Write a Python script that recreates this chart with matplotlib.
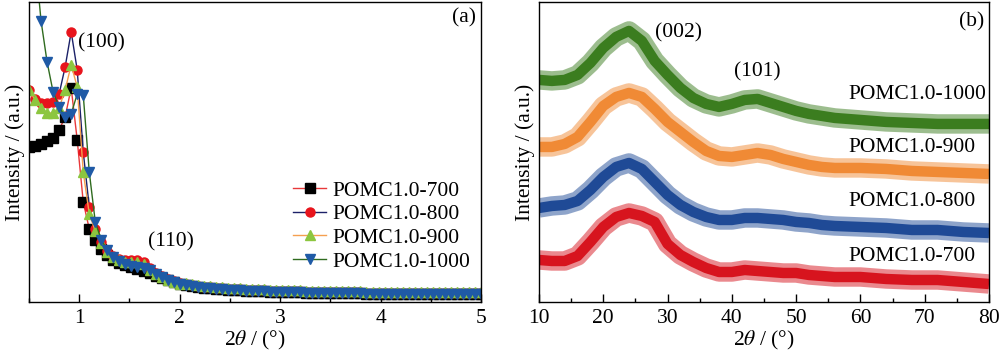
import numpy as np
import matplotlib
matplotlib.use("Agg")
import matplotlib.pyplot as plt
from matplotlib.ticker import MultipleLocator

plt.rcParams.update({
    "font.family": ["Liberation Serif", "DejaVu Serif"],
    "mathtext.fontset": "stix",
    "font.size": 15.5,
    "axes.linewidth": 1.0,
})

# ---------------- (a) small-angle XRD ----------------
two_theta_a = np.round(np.arange(0.50, 5.001, 0.06), 2)

saxs_700 = [155, 156, 158, 161, 164, 172, 185, 214, 162, 100, 73, 62, 53, 47, 42, 39, 37, 35, 33, 31,
            29, 26, 24, 22, 20, 18,
            17, 16, 15, 14, 14, 13, 13, 12, 12, 12, 11, 11, 11, 11, 10, 10, 10, 10, 10, 10,
            9, 9, 9, 9, 9, 9, 9, 9, 9, 9, 8, 8, 8, 8, 8, 8, 8, 8, 8, 8, 8, 8, 8, 8, 8, 8, 8, 8, 8, 8]
saxs_800 = [212, 203, 199, 199, 200, 208, 235, 270, 232, 150, 95, 73, 60, 51, 46, 43, 42, 42, 42, 40,
            34, 29, 26, 23, 21, 19,
            18, 17, 16, 15, 15, 14, 14, 13, 13, 13, 12, 12, 12, 12, 11, 11, 11, 11, 11, 11,
            10, 10, 10, 10, 10, 10, 10, 10, 10, 10, 9, 9, 9, 9, 9, 9, 9, 9, 9, 9, 9, 9, 9, 9, 9, 9, 9, 9, 9, 9]
saxs_900 = [212, 202, 194, 189, 189, 194, 212, 237, 215, 130, 88, 71, 59, 50, 45, 42, 40, 40, 40, 38,
            32, 28, 25, 22, 20, 18,
            19, 18, 17, 16, 16, 15, 15, 14, 14, 14, 13, 13, 13, 13, 12, 12, 12, 12, 12, 12,
            11, 11, 11, 11, 11, 11, 11, 11, 11, 11, 10, 10, 10, 10, 10, 10, 10, 10, 10, 10, 10, 10, 10, 10, 10, 10, 10, 10, 10, 10]
saxs_1000 = [460, 345, 281, 240, 210, 195, 185, 188, 208, 207, 130, 80, 62, 52, 45, 41, 38, 36, 35, 34,
             32, 28, 25, 22, 20, 18,
             17, 16, 15, 14, 14, 13, 13, 12, 12, 12, 11, 11, 11, 11, 10, 10, 10, 10, 10, 10,
             9, 9, 9, 9, 9, 9, 9, 9, 9, 9, 8, 8, 8, 8, 8, 8, 8, 8, 8, 8, 8, 8, 8, 8, 8, 8, 8, 8, 8, 8]

labels = ["POMC1.0-700", "POMC1.0-800", "POMC1.0-900", "POMC1.0-1000"]

# ---------------- (b) wide-angle XRD ----------------
two_theta_b = [10, 12, 14, 16, 18, 20, 22, 24, 26, 28, 30, 32, 34, 36, 38, 40, 42, 44, 46, 48,
               50, 52, 54, 56, 60, 64, 68, 72, 76, 80]

xrd_1000 = [222, 221, 222, 227, 239, 254, 265, 271, 261, 241, 227, 214, 204, 198, 195, 198, 202, 203, 199, 195,
            191, 188, 186, 184, 182, 180, 179, 178, 178, 178]
xrd_900 = [155, 155, 158, 165, 180, 196, 205, 209, 205, 193, 180, 170, 160, 151, 146, 145, 147, 149, 147, 143,
           140, 137, 135, 134, 134, 133, 131, 130, 129, 128]
xrd_800 = [94, 96, 97, 101, 112, 125, 135, 139, 133, 120, 107, 97, 90, 85, 82, 82, 84, 84, 83, 82,
           80, 79, 77, 76, 75, 74, 72, 72, 70, 69]
xrd_700 = [42, 41, 41, 46, 60, 75, 85, 89, 86, 80, 58, 47, 40, 34, 30, 30, 32, 31, 30, 29,
           29, 27, 26, 25, 25, 23, 22, 22, 20, 18]

fig = plt.figure(figsize=(10, 3.51), dpi=100)
ax1 = fig.add_axes([0.029, 0.1396, 0.452, 0.855])
ax2 = fig.add_axes([0.539, 0.1396, 0.450, 0.855])

styles = [
    dict(color="#e8383a", marker="s", mfc="black", mec="black"),
    dict(color="#1c2168", marker="o", mfc="#e8141c", mec="#e8141c"),
    dict(color="#f5a050", marker="^", mfc="#8cc63f", mec="#8cc63f"),
    dict(color="#2f6b1f", marker="v", mfc="#1f5aa6", mec="#1f5aa6"),
]
for ys, st, lab in zip([saxs_700, saxs_800, saxs_900, saxs_1000], styles, labels):
    ax1.plot(two_theta_a, ys, lw=1.0, ms=6.5, label=lab, **st)

ax1.set_xlim(0.5, 5)
ax1.set_ylim(0, 300)
ax1.set_yticks([])
ax1.xaxis.set_major_locator(MultipleLocator(1))
ax1.xaxis.set_minor_locator(MultipleLocator(0.5))
ax1.set_xlabel(r"2$\theta$ / (°)", labelpad=1)
ax1.set_ylabel("Intensity / (a.u.)", labelpad=3)
ax1.text(0.99, 259, "(100)", va="center")
ax1.text(1.68, 60, "(110)", va="center")
ax1.text(4.95, 284, "(a)", ha="right", va="center")
ax1.legend(loc="upper left", bbox_to_anchor=(0.584, 0.405), frameon=False, borderpad=0,
           borderaxespad=0, labelspacing=0.17, handlelength=1.55, handletextpad=0.3, numpoints=1)

# noisy XRD traces drawn as a solid core with a lighter halo for the noise spikes
colors_b = ["#d7141e", "#1f4a96", "#f08a35", "#3b7d1f"]
for ys, c in zip([xrd_700, xrd_800, xrd_900, xrd_1000], colors_b):
    ax2.plot(two_theta_b, ys, color=c, lw=14, alpha=0.5, solid_joinstyle="round",
             solid_capstyle="butt")
    ax2.plot(two_theta_b, ys, color=c, lw=7.5, solid_joinstyle="round", solid_capstyle="butt")

ax2.set_xlim(10, 80)
ax2.set_ylim(0, 300)
ax2.set_yticks([])
ax2.xaxis.set_major_locator(MultipleLocator(10))
ax2.xaxis.set_minor_locator(MultipleLocator(5))
ax2.set_xlabel(r"2$\theta$ / (°)", labelpad=1)
ax2.set_ylabel("Intensity / (a.u.)", labelpad=3)
ax2.text(28.1, 269, "(002)", va="center")
ax2.text(40.3, 230, "(101)", va="center")
ax2.text(79.2, 280, "(b)", ha="right", va="center")
for ypos, lab in zip([45, 100, 154, 207], labels):
    ax2.text(58.1, ypos, lab, va="center")

for ax in (ax1, ax2):
    ax.tick_params(axis="x", which="major", direction="in", length=6, width=1, pad=5)
    ax.tick_params(axis="x", which="minor", direction="in", length=3, width=1)

fig.savefig("out.png", dpi=100)
